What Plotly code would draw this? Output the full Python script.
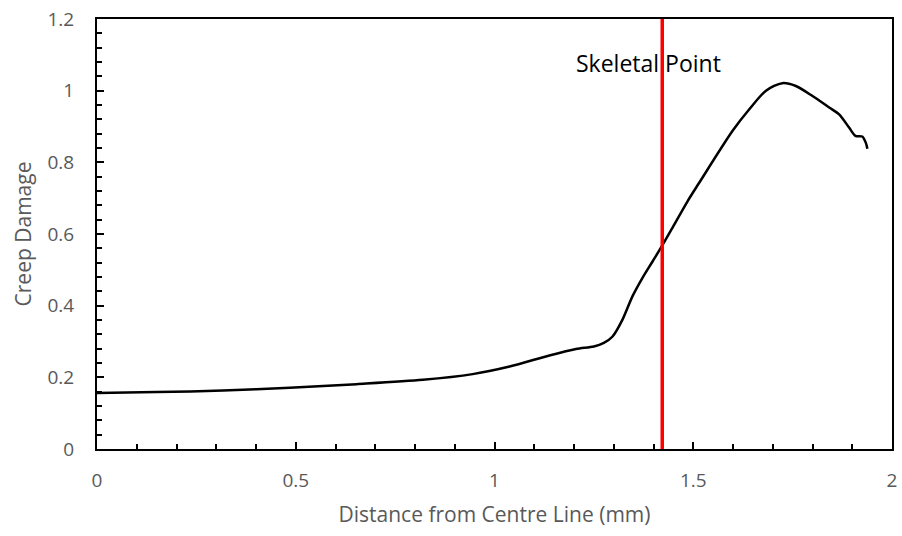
import plotly.graph_objects as go

distance = [0.0, 0.15, 0.317, 0.485, 0.653, 0.82, 0.945, 1.038, 1.138, 1.205, 1.250, 1.275,
            1.297, 1.322, 1.347, 1.372, 1.398, 1.421, 1.448, 1.486, 1.515, 1.599, 1.641,
            1.683, 1.724, 1.758, 1.800, 1.842, 1.867, 1.892, 1.908, 1.925, 1.934, 1.938]
damage = [0.156, 0.159, 0.163, 0.171, 0.181, 0.193, 0.209, 0.230, 0.261, 0.279, 0.286, 0.296,
          0.314, 0.361, 0.426, 0.477, 0.524, 0.566, 0.618, 0.692, 0.743, 0.888, 0.948,
          1.000, 1.021, 1.013, 0.985, 0.953, 0.934, 0.897, 0.874, 0.872, 0.855, 0.838]
skeletal_x = 1.422
label_text = "Skeletal Point"

font = "Open Sans, Liberation Sans, sans-serif"
grey = "#595959"

fig = go.Figure()
fig.add_trace(go.Scatter(x=distance, y=damage, mode="lines",
                         line=dict(color="black", width=2.5, shape="spline", smoothing=0.8),
                         showlegend=False, hoverinfo="skip"))
fig.add_trace(go.Scatter(x=[skeletal_x, skeletal_x], y=[0, 1.2], mode="lines",
                         line=dict(color="#FF0000", width=3.5), showlegend=False, hoverinfo="skip"))
fig.add_annotation(x=1.387, y=1.076, text=label_text, showarrow=False,
                   font=dict(family=font, size=23, color="black"))

axis_common = dict(showgrid=False, zeroline=False, showline=True, linecolor="black", linewidth=2,
                   mirror=True, ticks="inside", ticklen=7, tickwidth=2, tickcolor="black",
                   tickfont=dict(family=font, size=19, color=grey))
fig.update_xaxes(range=[0, 2], tickvals=[0, 0.5, 1, 1.5, 2], ticktext=["0", "0.5", "1", "1.5", "2"],
                 minor=dict(dtick=0.1, ticks="inside", ticklen=5, tickwidth=2, tickcolor="black"),
                 ticklabelstandoff=13,
                 title=dict(text="Distance from Centre Line (mm)", font=dict(family=font, size=21, color=grey), standoff=16),
                 **axis_common)
fig.update_yaxes(range=[0, 1.2], tickvals=[0, 0.2, 0.4, 0.6, 0.8, 1.0, 1.2],
                 ticktext=["0", "0.2", "0.4", "0.6", "0.8", "1", "1.2"],
                 minor=dict(dtick=0.04, ticks="inside", ticklen=5, tickwidth=2, tickcolor="black"),
                 ticklabelstandoff=17,
                 title=dict(text="Creep Damage", font=dict(family=font, size=21, color=grey), standoff=10),
                 **axis_common)
fig.update_layout(width=902, height=536, margin=dict(l=97, r=5, t=19, b=87),
                  plot_bgcolor="white", paper_bgcolor="white")
fig.write_html("out.html")
